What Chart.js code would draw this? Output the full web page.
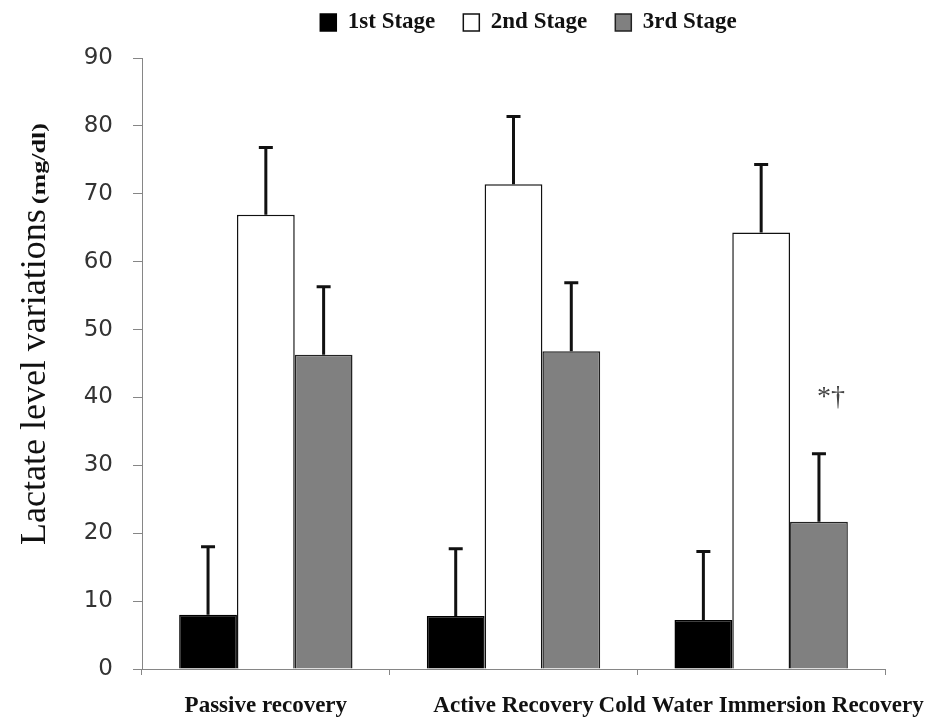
<!DOCTYPE html>
<html>
<head>
<meta charset="utf-8">
<script src="https://cdn.jsdelivr.net/npm/chart.js@4.4.1/dist/chart.umd.min.js"></script>
<style>
  html, body { margin: 0; padding: 0; background: #fff; }
  #wrap { width: 946px; height: 719px; position: relative; }
</style>
</head>
<body>
<div id="wrap"><canvas id="lactateChart"></canvas></div>
<script>
// values (mg/dl), error bars are the upper SD
const categories = ['Passive recovery', 'Active Recovery', 'Cold Water Immersion Recovery'];
const stageNames = ['1st Stage', '2nd Stage', '3rd Stage'];
const stage1 = [8.0, 7.8, 7.2];
const stage2 = [66.9, 71.4, 64.3];
const stage3 = [46.3, 46.8, 21.7];
const stage1Err = [10.0, 9.9, 10.1];
const stage2Err = [9.9, 10.0, 10.0];
const stage3Err = [10.0, 10.1, 10.0];
const stage3Marks = ['', '', '*†'];
const yMin = 0, yMax = 90, yStep = 10;

const serif = '"Liberation Serif", "Times New Roman", serif';

const errorBars = {
    id: 'errorBars',
    afterDatasetsDraw(chart) {
        const {ctx} = chart;
        const y = chart.scales.y;
        ctx.save();
        chart.data.datasets.forEach((ds, i) => {
            const meta = chart.getDatasetMeta(i);
            meta.data.forEach((bar, j) => {
                const tipVal = ds.data[j] + ds.errors[j];
                const top = y.getPixelForValue(tipVal);
                ctx.strokeStyle = '#111';
                ctx.lineWidth = 3;
                ctx.beginPath();
                ctx.moveTo(bar.x, bar.y);
                ctx.lineTo(bar.x, top);
                ctx.moveTo(bar.x - 7, top);
                ctx.lineTo(bar.x + 7, top);
                ctx.stroke();
                const mark = ds.marks && ds.marks[j];
                if (mark) {
                    ctx.fillStyle = '#444';
                    ctx.font = '28px ' + serif;
                    ctx.textAlign = 'center';
                    ctx.textBaseline = 'middle';
                    ctx.fillText(mark, bar.x + 12, y.getPixelForValue(tipVal + 8.3));
                }
            });
        });
        ctx.restore();
    }
};

const yTitle = {
    id: 'yTitle',
    afterDraw(chart) {
        const {ctx, chartArea} = chart;
        ctx.save();
        ctx.translate(45, chartArea.bottom - 124);
        ctx.rotate(-Math.PI / 2);
        ctx.fillStyle = '#111';
        ctx.textAlign = 'left';
        ctx.textBaseline = 'alphabetic';
        ctx.font = '36px ' + serif;
        const main = 'Lactate level variations';
        ctx.fillText(main, 0, 0);
        const w = ctx.measureText(main).width;
        ctx.translate(w + 5, 0);
        ctx.scale(1.45, 1);
        ctx.font = 'bold 18px ' + serif;
        ctx.fillText('(mg/dl)', 0, 0);
        ctx.restore();
    }
};

// the legend in the figure sits a bit right of the plot centre
const legendShift = {
    id: 'legendShift',
    afterLayout(chart) {
        chart.legend.left += 15;
        chart.legend.right += 15;
    }
};

const ctx = document.querySelector('#lactateChart');

const config = {
    type: 'bar',
    data: {
        labels: categories,
        datasets: [{
            label: stageNames[0],
            data: stage1,
            errors: stage1Err,
            backgroundColor: '#000',
            borderColor: '#000',
            borderWidth: 1.5,
        }, {
            label: stageNames[1],
            data: stage2,
            errors: stage2Err,
            backgroundColor: '#fff',
            borderColor: '#111',
            borderWidth: 1.5,
        }, {
            label: stageNames[2],
            data: stage3,
            errors: stage3Err,
            marks: stage3Marks,
            backgroundColor: '#808080',
            borderColor: '#222',
            borderWidth: 1.5,
        }],
    },
    options: {
        responsive: true,
        maintainAspectRatio: false,
        animation: false,
        devicePixelRatio: 1,
        categoryPercentage: 0.7,
        barPercentage: 1.0,
        layout: {
            padding: { top: -17, left: 0, right: 61, bottom: 0 },
        },
        scales: {
            x: {
                grid: {
                    display: true,
                    drawOnChartArea: false,
                    drawTicks: true,
                    tickLength: 6,
                    color: '#868686',
                },
                border: { color: '#868686', width: 1 },
                ticks: {
                    color: '#111',
                    font: { family: serif, size: 23, weight: 'bold' },
                    padding: 17,
                    maxRotation: 0,
                    autoSkip: false,
                },
                afterFit: (scale) => {
                    scale.height = 50;
                    scale.paddingLeft = 0;
                    scale.paddingRight = 0;
                },
            },
            y: {
                min: yMin,
                max: yMax,
                grid: {
                    drawOnChartArea: false,
                    tickLength: 9,
                    color: '#868686',
                },
                border: { color: '#868686', width: 1 },
                ticks: {
                    stepSize: yStep,
                    color: '#333',
                    font: { family: '"DejaVu Sans", sans-serif', size: 23 },
                    padding: 20,
                },
                afterFit: (scale) => { scale.width = 142; },
            },
        },
        plugins: {
            legend: {
                position: 'top',
                fullSize: false,
                weight: 3000,
                labels: {
                    boxWidth: 16,
                    boxHeight: 17,
                    padding: 28,
                    color: '#111',
                    font: { family: serif, size: 23, weight: 'bold' },
                },
            },
            // empty title used only as a spacer below the legend
            title: {
                display: true,
                text: '',
                fullSize: false,
                padding: 0,
                font: { size: 14, lineHeight: 1 },
            },
            tooltip: { enabled: false },
        },
    },
    plugins: [errorBars, yTitle, legendShift],
};

const chart = new Chart(ctx, config);
</script>
</body>
</html>
